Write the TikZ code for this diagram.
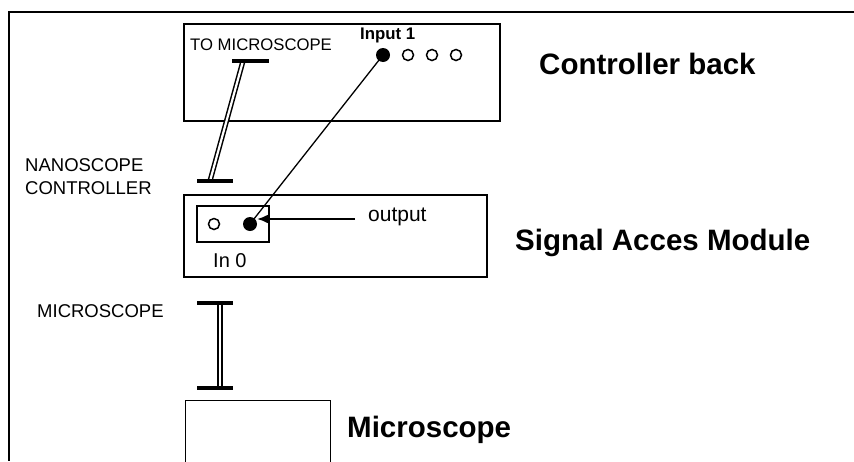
\documentclass[tikz,border=0pt]{standalone}
\usepackage{fontspec}
\setmainfont{Liberation Sans}
\usetikzlibrary{arrows.meta,positioning,calc}
\tikzset{
    unit/.style={
        rectangle, draw=black, line width=1.4pt,
        inner sep=0pt
    },
    socket/.style={
        circle, draw=black, line width=1.5pt,
        minimum size=11pt, inner sep=0pt
    },
    plug/.style={
        circle, fill=black,
        minimum size=14pt, inner sep=0pt
    },
    heading/.style={
        anchor=base west, inner sep=0pt,
        font=\fontsize{29.5}{32}\selectfont\bfseries
    },
    tag/.style={
        anchor=base west, inner sep=0pt,
        font=\fontsize{18.5}{23}\selectfont
    },
    bar/.style={line width=4.5pt},
    cable/.style={double, double distance=2.2pt, line width=1.5pt},
    wire/.style={line width=1.3pt},
    arrow/.style={-{Latex[length=11pt,width=9pt]},line width=1.5pt}
}

\begin{document}
\begin{tikzpicture}[x=1pt,y=-1pt]
\useasboundingbox (0,0) rectangle (854,461);

% ---- outer frame ----
\draw[line width=2.8pt] (854,12) -- (9,12) -- (9,461);

% ---- units ----
\node[unit, line width=2.8pt, minimum width=316pt, minimum height=97pt] (ctrl) at (342,72.5) {};
\node[unit, minimum width=303pt, minimum height=82pt] (sam) at (335.5,236) {};
\node[unit, line width=1.8pt, minimum width=72pt, minimum height=36pt] (inbox) at (233,224) {};
\node[unit, minimum width=145pt, minimum height=100pt, anchor=north west] (micro) at (185,400) {};

% ---- sockets ----
\node[plug] (in1) at (383,55) {};
\foreach \x/\n in {408/2,432/3,456/4}
    \node[socket] (in\n) at (\x,55) {};
\node[socket] (in0) at (214,224) {};
\node[plug] (out0) at (250,224) {};

% ---- labels ----
\node[heading] (ctrllbl) at (539,74) {Controller back};
\node[heading] (samlbl) at (515,250) {Signal Acces Module};
\node[heading] (microlbl) at (347,437) {Microscope};
\node[tag, font=\fontsize{16.7}{20}\selectfont] (tomiclbl) at (190,50) {TO MICROSCOPE};
\node[tag, font=\fontsize{16.8}{20}\selectfont\bfseries] (in1lbl) at (360,39) {Input 1};
\node[tag, anchor=north west, align=left] (nanolbl) at (25,158) {NANOSCOPE\\CONTROLLER};
\node[tag, font=\fontsize{21}{24}\selectfont] (outlbl) at (368,221) {output};
\node[tag, font=\fontsize{20}{24}\selectfont] (in0lbl) at (213,267) {In 0};
\node[tag] (miclbl) at (37,317) {MICROSCOPE};

% ---- cable ends ----
\coordinate (topbarL) at (232,61);  \coordinate (topbarR) at (269,61);
\coordinate (midbarL) at (197,181); \coordinate (midbarR) at (233,181);
\coordinate (lowbarL) at (197,303); \coordinate (lowbarR) at (233,303);
\coordinate (botbarL) at (197,388); \coordinate (botbarR) at (233,388);
\coordinate (topplug) at (243,61);
\coordinate (midplug) at (210,181);
\coordinate (lowplug) at (220,303);
\coordinate (botplug) at (220,388);

% cables
\draw[cable] (topplug) -- (midplug);
\draw[cable] (lowplug) -- (botplug);

% bars
\draw[bar] (topbarL) -- (topbarR);
\draw[bar] (midbarL) -- (midbarR);
\draw[bar] (lowbarL) -- (lowbarR);
\draw[bar] (botbarL) -- (botbarR);

% Input 1 -> output wire
\draw[wire] (in1.center) -- (out0.center);

% output pointer
\coordinate (arrtail) at (355,219);
\draw[arrow] (arrtail) -- (out0.east |- arrtail);

\end{tikzpicture}
\end{document}
